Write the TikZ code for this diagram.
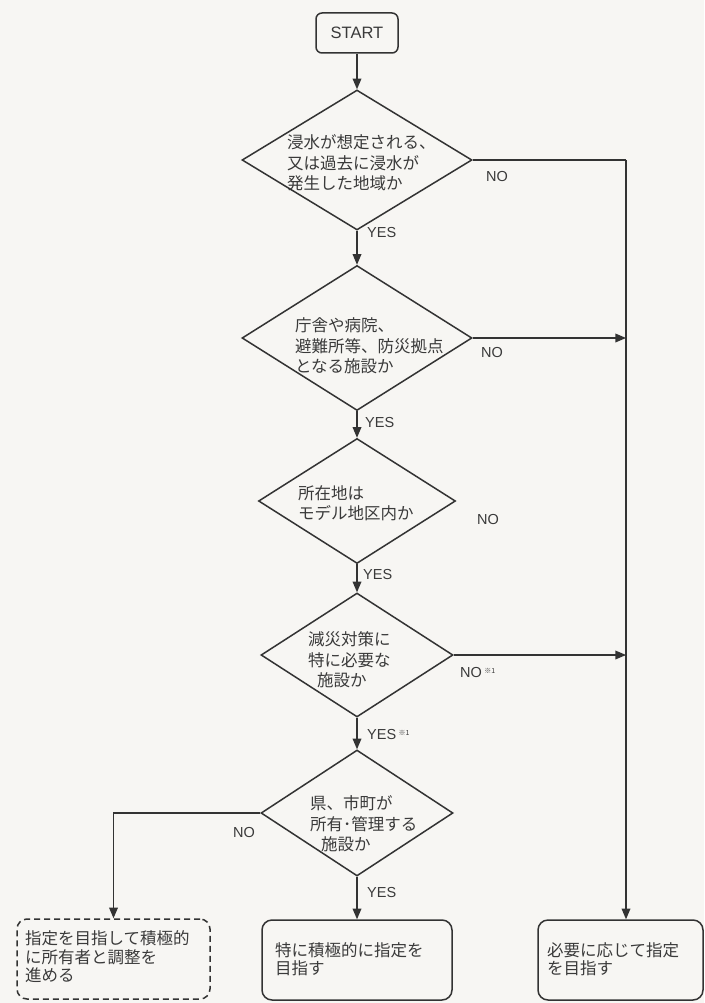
\documentclass[tikz,border=0pt]{standalone}
\usepackage{fontspec}
\setmainfont{Liberation Sans}
\newfontfamily\jpfont{Noto Sans CJK JP}
\usepackage{xcolor}
\usepackage{tikz}
\usetikzlibrary{shapes.geometric, positioning, arrows}
\definecolor{inkline}{HTML}{333333}
\definecolor{inktext}{HTML}{3A3A3A}
\definecolor{paper}{HTML}{F7F6F3}
\tikzset{
	decision/.style={diamond, draw=inkline, line width=1.5pt, inner sep=0pt}
}
\tikzset{
	startbox/.style={rectangle, rounded corners=6pt, draw=inkline, line width=1.5pt,
	minimum width=82pt, minimum height=40pt, text=inktext, font=\fontsize{16.5}{16.5}\selectfont}
}
\tikzset{
	resultbox/.style={rectangle, rounded corners=10pt, draw=inkline, line width=1.5pt,
	minimum height=80pt}
}
\tikzset{
	qtext/.style={anchor=west, align=left, inner sep=0pt, text=inktext,
	font=\jpfont\fontsize{16.5}{20.5}\selectfont}
}
\tikzset{
	btext/.style={anchor=west, align=left, inner sep=0pt, text=inktext,
	font=\jpfont\fontsize{16.5}{18.5}\selectfont}
}
\tikzset{
	yesno/.style={inner sep=0pt, text=inktext, font=\fontsize{14.5}{14.5}\selectfont}
}
\tikzset{
	flow/.style={draw=inkline, line width=1.5pt, -{triangle 45}}
}
\tikzset{
	flowNoArrow/.style={draw=inkline, line width=1.5pt}
}
\newcommand{\refmark}{\,\raisebox{0.6ex}{\jpfont\fontsize{7}{7}\selectfont ※1}}

\begin{document}
\begin{tikzpicture}[x=1pt, y=-1pt]

	% page
	\fill[paper] (0,0) rectangle (704,1003);
	\useasboundingbox (0,0) rectangle (704,1003);

	% main column and NO column
	\newcommand{\xmain}{357}
	\newcommand{\xno}{626}

	% start
	\node[startbox] (start) at (\xmain,33) {START};

	% questions
	\node[decision, minimum width=230pt, minimum height=140pt] (qflood) at (\xmain,160) {};
	\node[decision, minimum width=230pt, minimum height=145pt] (qbase) at (\xmain,338) {};
	\node[decision, minimum width=197pt, minimum height=125pt] (qmodel) at (\xmain,501) {};
	\node[decision, minimum width=192pt, minimum height=124pt] (qneed) at (\xmain,655) {};
	\node[decision, minimum width=192pt, minimum height=126pt] (qowner) at (\xmain,813) {};

	\node[qtext] (qfloodtxt) at (287,163) {浸水が想定される、\\又は過去に浸水が\\発生した地域か};
	\node[qtext] (qbasetxt) at (295,346) {庁舎や病院、\\避難所等、防災拠点\\となる施設か};
	\node[qtext] (qmodeltxt) at (298,503) {所在地は\\モデル地区内か};
	\node[qtext] (qneedtxt) at (308,660) {減災対策に\\特に必要な\\\hspace*{9pt}施設か};
	\node[qtext] (qownertxt) at (310,824) {県、市町が\\所有･管理する\\\hspace*{11pt}施設か};

	% results
	\node[resultbox, dashed, dash pattern=on 6pt off 4pt, minimum width=193pt] (rtalk) at (113.5,959) {};
	\node[resultbox, minimum width=190pt] (ractive) at (\xmain,960) {};
	\node[resultbox, minimum width=165pt] (rneed) at (620.5,960) {};

	\node[btext] (rtalktxt) at (25,957) {指定を目指して積極的\\に所有者と調整を\\進める};
	\node[btext] (ractivetxt) at (275,959) {特に積極的に指定を\\目指す};
	\node[btext] (rneedtxt) at (547,959) {必要に応じて指定\\を目指す};

	% YES path
	\draw[flow] (start) -- (qflood.north);
	\draw[flow] (qflood.south) -- (qbase.north);
	\draw[flow] (qbase.south) -- (qmodel.north);
	\draw[flow] (qmodel.south) -- (qneed.north);
	\draw[flow] (qneed.south) -- (qowner.north);
	\draw[flow] (qowner.south) -- (ractive.north);

	\node[yesno, anchor=west] (yes1) at (367,233) {YES};
	\node[yesno, anchor=west] (yes2) at (365,423) {YES};
	\node[yesno, anchor=west] (yes3) at (363,575) {YES};
	\node[yesno, anchor=west] (yes4) at (367,735) {YES\refmark};
	\node[yesno, anchor=west] (yes5) at (367,892) {YES};

	% NO path
	\coordinate (nocol) at (\xno,160);
	\draw[flowNoArrow] (qflood.east) -- (nocol);
	\draw[flow] (nocol) -- (nocol |- rneed.north);
	\draw[flow] (qbase.east) -- (nocol |- qbase.east);
	\draw[flow] (qneed.east) -- (nocol |- qneed.east);
	\draw[flow] (qowner.west) -| (rtalk.north);

	\node[yesno] (no1) at (497,177) {NO};
	\node[yesno] (no2) at (492,353) {NO};
	\node[yesno] (no3) at (488,520) {NO};
	\node[yesno, anchor=west] (no4) at (460,673) {NO\refmark};
	\node[yesno] (no5) at (244,832) {NO};

\end{tikzpicture}
\end{document}
